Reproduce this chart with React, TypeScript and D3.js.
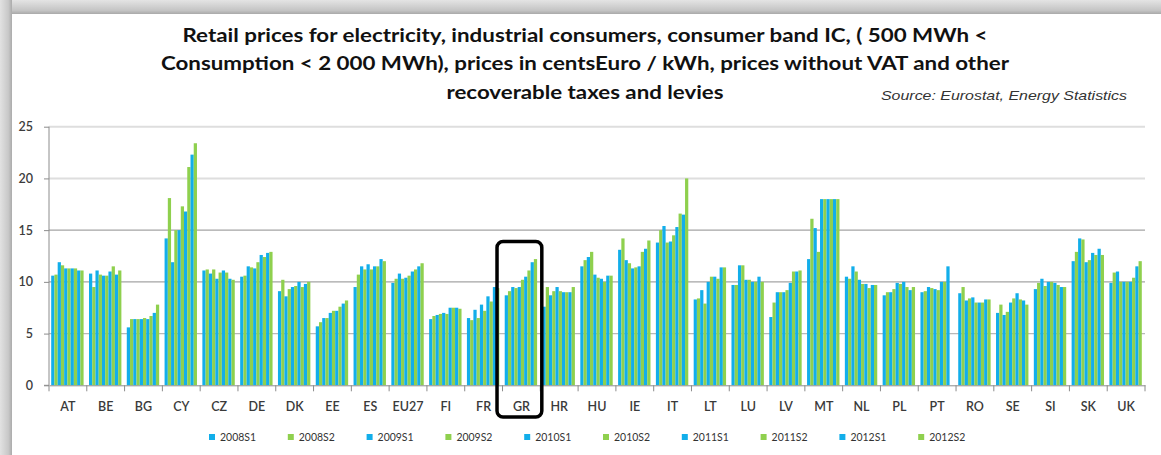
import React, { useEffect, useRef } from 'react';
import * as d3 from 'd3';

// Countries (x categories)
const countries = ['AT', 'BE', 'BG', 'CY', 'CZ', 'DE', 'DK', 'EE', 'ES', 'EU27', 'FI', 'FR', 'GR', 'HR', 'HU',
  'IE', 'IT', 'LT', 'LU', 'LV', 'MT', 'NL', 'PL', 'PT', 'RO', 'SE', 'SI', 'SK', 'UK'];

const seriesNames = ['2008S1', '2008S2', '2009S1', '2009S2', '2010S1', '2010S2', '2011S1', '2011S2', '2012S1', '2012S2'];

// values in centsEuro / kWh, one array per semester, same order as countries
const s2008S1 = [10.6, 10.8, 5.6, 14.2, 11.1, 10.5, 9.1, 5.7, 9.5, 9.9, 6.4, 6.5, 8.7, 7.6, 11.5, 13.1, 13.8, 8.3, 9.7, 6.6, 12.2, 10.5, 8.7, 9.0, 8.9, 7.0, 9.3, 12.0, 9.9];
const s2008S2 = [10.7, 9.5, 6.4, 18.1, 11.2, 10.6, 10.2, 6.1, 10.7, 10.3, 6.7, 6.3, 9.1, 9.5, 12.1, 14.2, 15.0, 8.4, 9.7, 8.0, 16.1, 10.3, 9.0, 9.1, 9.5, 7.8, 9.9, 12.9, 10.9];
const s2009S1 = [11.9, 11.1, 6.4, 11.9, 10.8, 11.5, 8.6, 6.5, 11.5, 10.8, 6.8, 7.3, 9.5, 8.7, 12.4, 12.1, 15.4, 9.2, 11.6, 9.0, 15.2, 11.5, 9.0, 9.5, 8.2, 6.8, 10.3, 14.2, 11.0];
const s2009S2 = [11.6, 10.7, 6.4, 15.0, 11.2, 11.4, 9.3, 6.5, 11.2, 10.3, 6.9, 6.5, 9.4, 9.1, 12.9, 11.8, 13.8, 7.9, 11.6, 9.0, 12.9, 11.0, 9.3, 9.4, 8.4, 7.1, 9.6, 14.1, 10.0];
const s2010S1 = [11.3, 10.6, 6.4, 15.0, 10.3, 11.3, 9.5, 7.0, 11.7, 10.4, 7.0, 7.8, 9.5, 9.5, 10.7, 11.3, 13.9, 10.0, 10.2, 9.0, 18.0, 10.2, 9.9, 9.3, 8.5, 8.0, 10.0, 11.9, 10.0];
const s2010S2 = [11.3, 10.6, 6.5, 17.3, 10.9, 11.9, 9.6, 7.2, 11.2, 10.6, 6.9, 7.2, 10.2, 9.1, 10.4, 11.4, 14.5, 10.5, 10.2, 9.2, 18.0, 9.8, 9.8, 9.2, 8.0, 8.4, 10.0, 12.1, 10.0];
const s2011S1 = [11.3, 11.0, 6.4, 16.8, 11.1, 12.6, 10.0, 7.2, 11.5, 11.0, 7.5, 8.6, 10.5, 9.0, 10.3, 11.5, 15.3, 10.5, 10.0, 9.9, 18.0, 9.8, 10.0, 10.0, 8.0, 8.9, 9.9, 12.8, 10.0];
const s2011S2 = [11.3, 11.5, 6.7, 21.1, 10.9, 12.4, 9.5, 7.6, 11.5, 11.2, 7.5, 8.1, 11.1, 9.0, 10.0, 12.9, 16.6, 10.3, 10.0, 11.0, 18.0, 9.4, 9.5, 10.0, 8.0, 8.3, 9.7, 12.6, 10.4];
const s2012S1 = [11.1, 10.7, 7.0, 22.3, 10.3, 12.8, 9.8, 7.9, 12.2, 11.5, 7.5, 9.5, 11.9, 9.0, 10.6, 13.2, 16.5, 11.4, 10.5, 11.0, 18.0, 9.7, 9.2, 11.5, 8.3, 8.2, 9.5, 13.2, 11.5];
const s2012S2 = [11.1, 11.1, 7.8, 23.4, 10.2, 12.9, 10.0, 8.2, 12.0, 11.8, 7.4, 9.4, 12.2, 9.5, 10.6, 14.0, 20.0, 11.4, 10.0, 11.1, 18.0, 9.7, 9.5, null, 8.3, 7.8, 9.5, 12.6, 12.0];

const seriesValues = [s2008S1, s2008S2, s2009S1, s2009S2, s2010S1, s2010S2, s2011S1, s2011S2, s2012S1, s2012S2];

const yTicks = [0, 5, 10, 15, 20, 25];
const highlighted = 'GR';

const titleLines = [
  'Retail prices for electricity, industrial consumers, consumer band IC, ( 500 MWh <',
  'Consumption < 2 000 MWh), prices in centsEuro / kWh, prices without VAT and other',
  'recoverable taxes and levies',
];
const sourceText = 'Source: Eurostat, Energy Statistics';

const BLUE = '#12aeea';
const GREEN = '#8fd04e';

const App = () => {
  const ref = useRef<SVGSVGElement>(null);

  useEffect(() => {
    const width = 1161;
    const height = 455;
    const svg = d3.select(ref.current);
    svg.selectAll('*').remove();
    svg.attr('width', width).attr('height', height);

    // frame (grey bands at top and left)
    const defs = svg.append('defs');
    const gTop = defs.append('linearGradient').attr('id', 'topband').attr('x1', 0).attr('y1', 0).attr('x2', 0).attr('y2', 1);
    gTop.append('stop').attr('offset', '0%').attr('stop-color', '#e4e4e4');
    gTop.append('stop').attr('offset', '75%').attr('stop-color', '#c4c4c4');
    gTop.append('stop').attr('offset', '100%').attr('stop-color', '#a9a9a9');
    const gLeft = defs.append('linearGradient').attr('id', 'leftband').attr('x1', 0).attr('y1', 0).attr('x2', 1).attr('y2', 0);
    gLeft.append('stop').attr('offset', '0%').attr('stop-color', '#e2e2e2');
    gLeft.append('stop').attr('offset', '70%').attr('stop-color', '#c8c8c8');
    gLeft.append('stop').attr('offset', '100%').attr('stop-color', '#ababab');

    svg.append('rect').attr('width', width).attr('height', height).attr('fill', '#fff');
    svg.append('rect').attr('x', 0).attr('y', 0).attr('width', width).attr('height', 14).attr('fill', 'url(#topband)');
    svg.append('rect').attr('x', 0).attr('y', 0).attr('width', 12).attr('height', height).attr('fill', 'url(#leftband)');

    // Escalas
    const left = 49;
    const right = 1145;
    const x0 = d3.scaleBand().domain(countries).range([left, right]).padding(0);
    const x1 = d3.scaleBand().domain(seriesNames).range([2.2, x0.bandwidth() - 3.2]).padding(0);
    const y = d3.scaleLinear().domain([0, 25]).range([385.3, 126.7]);

    // gridlines
    svg.append('g')
      .selectAll('line')
      .data(yTicks.filter(t => t > 0))
      .enter()
      .append('line')
      .attr('x1', left)
      .attr('x2', right)
      .attr('y1', d => y(d))
      .attr('y2', d => y(d))
      .attr('stroke', d => (d >= 20 ? '#dedede' : d === 5 ? '#b8b8b8' : '#a4a4a4'))
      .attr('stroke-width', d => (d >= 20 ? 2 : 1.2));

    // bars
    seriesValues.forEach((vals, i) => {
      svg.append('g')
        .selectAll('rect')
        .data(countries.map((c, j) => ({ c, v: vals[j] })).filter(d => d.v != null))
        .enter()
        .append('rect')
        .attr('x', d => (x0(d.c) as number) + (x1(seriesNames[i]) as number))
        .attr('y', d => y(d.v as number))
        .attr('width', x1.bandwidth())
        .attr('height', d => y(0) - y(d.v as number))
        .attr('fill', i % 2 === 0 ? BLUE : GREEN);
    });

    // eje y
    const yAxis = svg.append('g')
      .attr('transform', `translate(${left},0)`)
      .call(d3.axisLeft(y).tickValues(yTicks).tickSize(5).tickPadding(11).tickFormat(d3.format('d')));
    yAxis.select('.domain').attr('stroke', '#8c8c8c').attr('d', `M-5,${y(0)}H0V${y(25)}`);
    yAxis.selectAll('.tick line').attr('stroke', '#8c8c8c');
    yAxis.selectAll('text')
      .style('font-family', 'Lato, "Open Sans", sans-serif')
      .style('font-size', '12.5px')
      .style('font-weight', '600')
      .attr('fill', '#3c3c3c');

    // eje x
    const xAxis = svg.append('g')
      .attr('transform', `translate(0,${y(0)})`)
      .call(d3.axisBottom(x0).tickSize(0).tickPadding(17));
    xAxis.select('.domain').attr('stroke', '#8c8c8c');
    xAxis.selectAll('text')
      .style('font-family', 'Lato, "Open Sans", sans-serif')
      .style('font-size', '12.5px')
      .style('font-weight', '600')
      .attr('fill', '#3a3a3a');
    xAxis.selectAll('.sep')
      .data([...countries.map(c => x0(c) as number), right])
      .enter()
      .append('line')
      .attr('class', 'sep')
      .attr('x1', d => d)
      .attr('x2', d => d)
      .attr('y1', 0)
      .attr('y2', 6)
      .attr('stroke', '#8c8c8c');

    // highlight box round GR
    svg.append('rect')
      .attr('x', (x0(highlighted) as number) - 5.5)
      .attr('y', y(13.9))
      .attr('width', x0.bandwidth() + 7)
      .attr('height', 417 - y(13.9))
      .attr('rx', 6)
      .attr('fill', 'none')
      .attr('stroke', '#000')
      .attr('stroke-width', 3.5);

    // Título
    const titleW = [805, 848, 277];
    const titleY = [41.5, 70, 98.5];
    svg.append('g')
      .selectAll('text')
      .data(titleLines)
      .enter()
      .append('text')
      .attr('x', 585)
      .attr('y', (d, i) => titleY[i])
      .attr('text-anchor', 'middle')
      .attr('textLength', (d, i) => titleW[i])
      .attr('lengthAdjust', 'spacingAndGlyphs')
      .style('font-family', 'Lato, "Open Sans", sans-serif')
      .style('font-size', '18px')
      .style('font-weight', 'bold')
      .attr('fill', '#111')
      .text(d => d);

    svg.append('text')
      .attr('x', 1127)
      .attr('y', 100)
      .attr('text-anchor', 'end')
      .attr('textLength', 246)
      .attr('lengthAdjust', 'spacingAndGlyphs')
      .style('font-family', '"Liberation Sans", Arial, sans-serif')
      .style('font-size', '13px')
      .style('font-style', 'italic')
      .attr('fill', '#333')
      .text(sourceText);

    // Leyenda
    const legend = svg.append('g').attr('transform', 'translate(212,437)');
    const item = legend.selectAll('.legend-item')
      .data(seriesNames)
      .enter()
      .append('g')
      .attr('class', 'legend-item')
      .attr('transform', (d, i) => `translate(${i * 78.8},0)`);
    item.append('rect')
      .attr('x', -3)
      .attr('y', -3)
      .attr('width', 6)
      .attr('height', 6)
      .attr('fill', (d, i) => (i % 2 === 0 ? BLUE : GREEN));
    item.append('text')
      .attr('x', 8)
      .attr('y', 4)
      .attr('textLength', 36)
      .attr('lengthAdjust', 'spacingAndGlyphs')
      .style('font-family', 'Lato, "Open Sans", sans-serif')
      .style('font-size', '11px')
      .attr('fill', '#333')
      .text(d => d);
  }, []);

  return <svg ref={ref} style={{ position: 'absolute', left: 0, top: 0, display: 'block' }} />;
};

export default App;
